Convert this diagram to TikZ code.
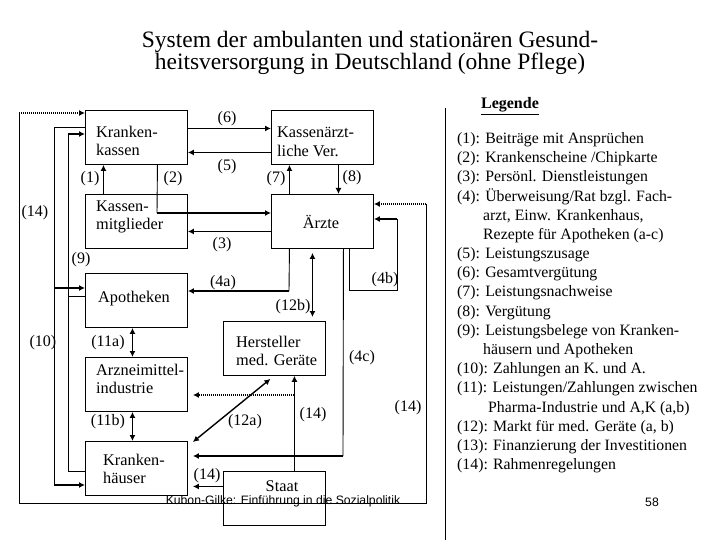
\documentclass[tikz,border=0pt]{standalone}
\usepackage{fontspec}
\setmainfont{Liberation Serif}
\newfontfamily\arialf{Liberation Sans}
\usetikzlibrary{arrows.meta,calc}
\begin{document}
\begin{tikzpicture}[x=1pt,y=-1pt,
  box/.style={draw,line width=0.9pt,minimum width=102pt,minimum height=54pt,inner sep=0pt,anchor=north west},
  btxt/.style={font=\fontsize{16.3}{18.5}\selectfont,inner sep=0pt,align=left,anchor=west},
  lbl/.style={font=\fontsize{16}{18}\selectfont,inner sep=0pt},
  leg/.style={font=\fontsize{15.8}{19}\selectfont,inner sep=0pt,anchor=west},
  tip/.style={-{Latex[length=6pt,width=6pt]}},
  thk/.style={line width=1.8pt,-{Latex[length=6pt,width=6pt]}},
  dbl/.style={line width=1.8pt,{Latex[length=6pt,width=6pt]}-{Latex[length=6pt,width=6pt]}},
  thn/.style={line width=0.9pt},
  dotarr/.style={line width=1.2pt,dash pattern=on 1pt off 1pt,-{Latex[length=6pt,width=6pt]}},
]
\useasboundingbox (0,0) rectangle (720,540);

% title
\node[font=\fontsize{23.5}{22}\selectfont,align=center,inner sep=0pt] (title) at (370,53)
  {System der ambulanten und stationären Gesund-\\heitsversorgung in Deutschland (ohne Pflege)};

% boxes
\node[box] (kk) at (85,110) {};
\node[box] (kv) at (271,110) {};
\node[box] (km) at (85,194) {};
\node[box] (ae) at (271,194) {};
\node[box] (ap) at (85,273) {};
\node[box] (ai) at (85,357) {};
\node[box] (kh) at (85,441) {};
\node[box] (hm) at (223,321) {};
\node[box] (st) at (223,471) {};

% box texts
\node[btxt] (kkt) at (96,141) {Kranken-\\kassen};
\node[btxt] (kvt) at (277,142) {Kassenärzt-\\liche Ver.};
\node[btxt] (kmt) at (96,217) {Kassen-\\mitglieder};
\node[btxt,anchor=center] (aet) at (321,222) {Ärzte};
\node[btxt] (apt) at (98,299) {Apotheken};
\node[btxt] (ait) at (96,379) {Arzneimittel-\\industrie};
\node[btxt] (kht) at (103,469) {Kranken-\\häuser};
\node[btxt] (hmt) at (236,351) {Hersteller\\med. Geräte};
\node[btxt,anchor=center] (stt) at (282,486) {Staat};

% (6) (5)
\draw[thk] ([yshift=9pt]kk.east) -- ([yshift=9pt]kv.west);
\draw[thk] ([yshift=-15pt]kv.west) -- ([yshift=-15pt]kk.east);
% (1)
\draw[thk] ([xshift=-33pt]km.north) -- ([xshift=-33pt]kk.south);
% (2)
\coordinate (c2) at (157,213);
\draw[thn] ([xshift=21pt]kk.south) -- (c2);
\draw[thk] (c2) -- (c2 -| ae.west);
% (7) (8)
\draw[thk] ([xshift=-33pt]ae.north) -- ([xshift=-33pt]kv.south);
\draw[thk] ([xshift=16pt]kv.south) -- ([xshift=16pt]ae.north);
% (3)
\draw[thk] ([yshift=-10pt]ae.west) -- ([yshift=-10pt]km.east);
% (4a)
\coordinate (c4a) at (289,291);
\draw[thn] ([xshift=-33pt]ae.south) -- (c4a);
\draw[thk] (c4a) -- (c4a -| ap.east);
% (4b)
\coordinate (c4b) at (397,219);
\draw[thn] ([xshift=27pt]ae.south) -- ++(0,42) -| (c4b);
\draw[thk] (c4b) -- (c4b -| ae.east);
% (4c)
\coordinate (c4c) at (343,456);
\draw[thn] ([xshift=21pt]ae.south) -- (c4c);
\draw[thk,shorten >=5pt] (c4c) -- (c4c -| kh.east);
% (12b)
\draw[dbl] ([xshift=-10pt,yshift=-4pt]ae.south) -- ([xshift=38pt,yshift=4pt]hm.north);
% (11a) (11b)
\draw[dbl] ([xshift=-4pt]ap.south) -- ([xshift=-4pt]ai.north);
\draw[dbl] ([xshift=-4pt]ai.south) -- ([xshift=-4pt]kh.north);
% (12a)
\draw[dbl,line width=1.4pt] ([xshift=-4pt,yshift=-3pt]hm.south) -- ([xshift=5pt,yshift=-1pt]kh.north east);
% (14) from Staat
\coordinate (c14) at (294,395);
\draw[thn,tip] ([xshift=20pt]st.north) -- ([xshift=20pt]hm.south);
\draw[dotarr,shorten >=5pt] (c14) -- (c14 -| ai.east);
\coordinate (s14) at ([yshift=12pt]st.west);
\draw[thk,shorten >=5pt] (s14) -- (s14 -| kh.east);
% big (14) loop
\coordinate (lt) at (19,113);
\coordinate (lb) at (19,503);
\coordinate (rb) at (426,503);
\coordinate (rt) at (426,204);
\draw[dotarr] (lt) -- (lt -| kk.west);
\draw[thn] (lt) -- (lb) -- (rb) -- (rt);
\draw[dotarr] (rt) -- (rt -| ae.east);
% (10)
\coordinate (t10) at (54,127);
\coordinate (m10) at (54,288);
\coordinate (b10) at (54,485);
\draw[thn] (t10 -| kk.west) -- (t10) -- (b10);
\draw[thk] (m10) -- (m10 -| ap.west);
\draw[thk] (b10) -- (b10 -| kh.west);
% (9)
\coordinate (t9) at (68,134);
\coordinate (m9) at (68,296);
\coordinate (b9) at (68,471);
\draw[thn] (m9 -| ap.west) -- (m9);
\draw[thn] (b9 -| kh.west) -- (b9) -- (t9);
\draw[thk] (t9) -- (t9 -| kk.west);

% legend separator
\coordinate (lg1) at (445,108);
\coordinate (lg2) at (445,540);
\draw[thn] (lg1) -- (lg2);

% labels
\node[lbl] (l6) at (227,119) {(6)};
\node[lbl] (l5) at (227,167) {(5)};
\node[lbl] (l1) at (90,179) {(1)};
\node[lbl] (l2) at (173,179) {(2)};
\node[lbl] (l7) at (276,179) {(7)};
\node[lbl] (l8) at (352,178) {(8)};
\node[lbl] (l14a) at (35,213) {(14)};
\node[lbl] (l3) at (222,245) {(3)};
\node[lbl] (l9) at (81,260) {(9)};
\node[lbl] (l4a) at (223,283) {(4a)};
\node[lbl] (l4b) at (385,280) {(4b)};
\node[lbl] (l12b) at (293,307) {(12b)};
\node[lbl] (l10) at (43,343) {(10)};
\node[lbl] (l11a) at (108,343) {(11a)};
\node[lbl] (l4c) at (362,358) {(4c)};
\node[lbl] (l11b) at (108,422) {(11b)};
\node[lbl] (l14b) at (408,408) {(14)};
\node[lbl] (l12a) at (245,422) {(12a)};
\node[lbl] (l14c) at (313,415) {(14)};
\node[lbl] (l14d) at (207,476) {(14)};

% legend
\node[font=\fontsize{16}{19}\selectfont\bfseries,inner sep=0pt] (legt) at (510,106) {\underline{Legende}};
\node[leg] (g1) at (457,139.5) {(1): Beiträge mit Ansprüchen};
\node[leg] (g2) at (457,158.7) {(2): Krankenscheine /Chipkarte};
\node[leg] (g3) at (457,177.9) {(3): Persönl. Dienstleistungen};
\node[leg] (g4) at (457,197.1) {(4): Überweisung/Rat bzgl. Fach-};
\node[leg] (g4b) at (483,216.3) {arzt, Einw. Krankenhaus,};
\node[leg] (g4c) at (483,235.5) {Rezepte für Apotheken (a-c)};
\node[leg] (g5) at (457,254.7) {(5): Leistungszusage};
\node[leg] (g6) at (457,273.9) {(6): Gesamtvergütung};
\node[leg] (g7) at (457,293.1) {(7): Leistungsnachweise};
\node[leg] (g8) at (457,312.3) {(8): Vergütung};
\node[leg] (g9) at (457,331.5) {(9): Leistungsbelege von Kranken-};
\node[leg] (g9b) at (483,350.7) {häusern und Apotheken};
\node[leg] (g10) at (457,369.9) {(10): Zahlungen an K. und A.};
\node[leg] (g11) at (457,389.1) {(11): Leistungen/Zahlungen zwischen};
\node[leg] (g11b) at (488,408.3) {Pharma-Industrie und A,K (a,b)};
\node[leg] (g12) at (457,427.5) {(12): Markt für med. Geräte (a, b)};
\node[leg] (g13) at (457,446.7) {(13): Finanzierung der Investitionen};
\node[leg] (g14) at (457,465.9) {(14): Rahmenregelungen};

% footer
\node[font=\arialf\fontsize{12.2}{14}\selectfont,inner sep=0pt] (foot) at (283,501) {Kubon-Gilke: Einführung in die Sozialpolitik};
\node[font=\arialf\fontsize{12.2}{14}\selectfont,inner sep=0pt] (pg) at (652,502) {58};
\end{tikzpicture}
\end{document}
